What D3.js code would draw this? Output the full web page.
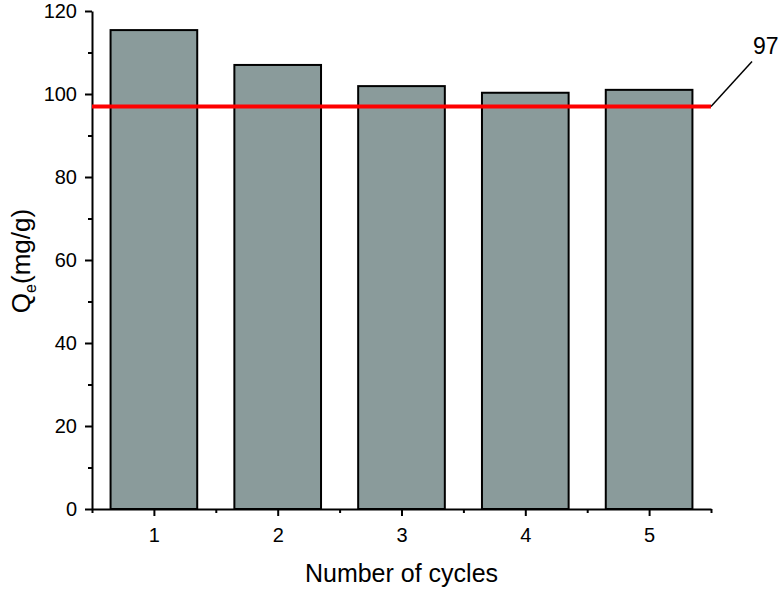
<!DOCTYPE html>
<html>
<head>
<meta charset="utf-8">
<script src="https://cdn.jsdelivr.net/npm/d3@7"></script>
<style>
  body { margin: 0; background: #fff; }
  svg { font-family: "Liberation Sans", Arial, sans-serif; }
</style>
</head>
<body>
<div id="chart"></div>
<script>
// Data
const cycles = [1, 2, 3, 4, 5];
const qe = [115.4, 107, 101.9, 100.3, 101];
const refValue = 97;
const yTicks = [0, 20, 40, 60, 80, 100, 120];
const yMinor = [10, 30, 50, 70, 90, 110];
const xMinor = [0.5, 1.5, 2.5, 3.5, 4.5, 5.5];

const width = 784;
const height = 591;
const margin = {top: 11, right: 73, bottom: 82, left: 92};

const svg = d3.select("#chart")
  .append("svg")
  .attr("width", width)
  .attr("height", height);

const xScale = d3.scaleLinear()
  .domain([0.5, 5.5])
  .range([margin.left, width - margin.right]);

const yScale = d3.scaleLinear()
  .domain([0, 120])
  .range([height - margin.bottom, margin.top]);

const barW = xScale(0.7) - xScale(0);

// Bars
svg.selectAll("rect.bar")
  .data(cycles)
  .enter()
  .append("rect")
  .attr("class", "bar")
  .attr("x", (d) => xScale(d) - barW / 2)
  .attr("y", (d, i) => yScale(qe[i]))
  .attr("width", barW)
  .attr("height", (d, i) => yScale(0) - yScale(qe[i]))
  .style("fill", "#8a9b9b")
  .style("stroke", "#000")
  .style("stroke-width", 2);

// Y axis
svg.append("g")
  .attr("transform", "translate(" + margin.left + ",0)")
  .call(d3.axisLeft(yScale).tickValues(yTicks).tickFormat(d3.format("d"))
    .tickSize(7).tickPadding(8).tickSizeOuter(0));

svg.append("g")
  .attr("transform", "translate(" + margin.left + ",0)")
  .call(d3.axisLeft(yScale).tickValues(yMinor).tickSize(4).tickFormat("").tickSizeOuter(0))
  .select(".domain").remove();

// X axis
svg.append("g")
  .attr("transform", "translate(0," + yScale(0) + ")")
  .call(d3.axisBottom(xScale).tickValues(cycles).tickFormat(d3.format("d"))
    .tickSize(7).tickPadding(12).tickSizeOuter(0));

svg.append("g")
  .attr("transform", "translate(0," + yScale(0) + ")")
  .call(d3.axisBottom(xScale).tickValues(xMinor).tickSize(4).tickFormat("").tickSizeOuter(0))
  .select(".domain").remove();

svg.selectAll(".domain, .tick line")
  .style("stroke", "#000")
  .style("stroke-width", 2);

svg.selectAll(".tick text")
  .style("font-size", "20px")
  .style("fill", "#000")
  .style("font-family", "Liberation Sans, Arial, sans-serif");

// Reference line
svg.append("line")
  .attr("x1", xScale(0.5))
  .attr("x2", xScale(5.5))
  .attr("y1", yScale(refValue))
  .attr("y2", yScale(refValue))
  .style("stroke", "#ff0000")
  .style("stroke-width", 4);

// Leader and label
svg.append("line")
  .attr("x1", xScale(5.5))
  .attr("y1", yScale(refValue))
  .attr("x2", xScale(5.5) + 41)
  .attr("y2", yScale(refValue) - 45)
  .style("stroke", "#000")
  .style("stroke-width", 1.5);

svg.append("text")
  .attr("x", xScale(5.5) + 42)
  .attr("y", yScale(refValue) - 52)
  .style("font-size", "23px")
  .text(refValue);

// Axis titles
svg.append("text")
  .attr("x", xScale(3))
  .attr("y", 582)
  .attr("text-anchor", "middle")
  .style("font-size", "25px")
  .text("Number of cycles");

const yTitle = svg.append("text")
  .attr("transform", "translate(30," + 261 + ") rotate(-90)")
  .attr("text-anchor", "middle")
  .style("font-size", "26px");
yTitle.append("tspan").text("Q");
yTitle.append("tspan").attr("dy", 6).style("font-size", "16px").text("e");
yTitle.append("tspan").attr("dy", -6).text("(mg/g)");
</script>
</body>
</html>
